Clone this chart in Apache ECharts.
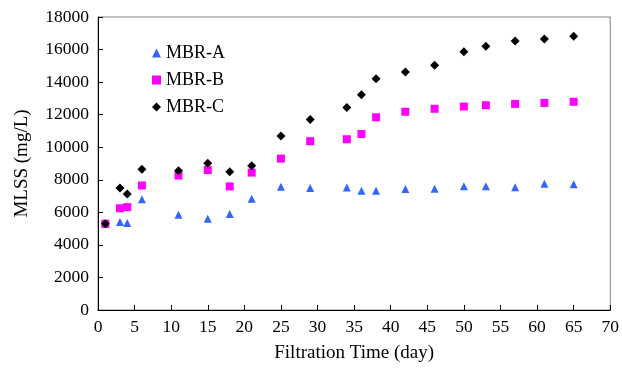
<!DOCTYPE html>
<html>
<head>
<meta charset="utf-8">
<script src="https://cdn.jsdelivr.net/npm/echarts@6/dist/echarts.min.js"></script>
<style>html,body{margin:0;padding:0;background:#fff}#c{width:622px;height:368px}</style>
</head>
<body>
<div id="c"></div>
<script>
var days = [1,3,4,6,11,15,18,21,25,29,34,36,38,42,46,50,53,57,61,65];
var mbrA = [5300,5400,5350,6800,5850,5600,5900,6830,7570,7490,7530,7330,7330,7430,7450,7610,7610,7540,7760,7720];
var mbrB = [5300,6250,6320,7650,8260,8600,7590,8440,9300,10370,10490,10810,11840,12180,12360,12500,12580,12660,12720,12790];
var mbrC = [5300,7490,7130,8640,8560,9020,8500,8860,10690,11700,12440,13230,14200,14620,15040,15870,16210,16530,16650,16810];
var seriesNames = ['MBR-A','MBR-B','MBR-C'];
var xTitle = 'Filtration Time (day)';
var yTitle = 'MLSS (mg/L)';

function pairs(v){ return days.map(function(d,i){ return [d, v[i]]; }); }
var font = '"Liberation Serif","Times New Roman",serif';
var chart = echarts.init(document.getElementById('c'), null, {renderer:'canvas'});
chart.setOption({
  animation:false,
  backgroundColor:'#fff',
  grid:{left:98, top:17, right:9, bottom:53, show:true, borderColor:'#808080', borderWidth:1},
  legend:{
    orient:'vertical', left:147, top:39, itemGap:9, itemWidth:9, itemHeight:9,
    textStyle:{fontFamily:font, fontSize:18, color:'#000'},
    data:seriesNames
  },
  xAxis:{
    type:'value', min:0, max:70, interval:5,
    name:xTitle, nameLocation:'middle', nameGap:34,
    nameTextStyle:{fontFamily:font, fontSize:19, color:'#000'},
    axisLine:{lineStyle:{color:'#000', width:1}},
    axisTick:{inside:true, length:5, lineStyle:{color:'#000'}},
    axisLabel:{fontFamily:font, fontSize:17.5, color:'#000', margin:8},
    splitLine:{show:false}
  },
  yAxis:{
    type:'value', min:0, max:18000, interval:2000,
    name:yTitle, nameLocation:'middle', nameGap:66,
    nameTextStyle:{fontFamily:font, fontSize:19, color:'#000'},
    axisLine:{show:true, lineStyle:{color:'#000', width:1}},
    axisTick:{show:true, inside:true, length:5, lineStyle:{color:'#000'}},
    axisLabel:{fontFamily:font, fontSize:17.5, color:'#000', margin:9, formatter:function(v){return String(v);}},
    splitLine:{show:false}
  },
  series:[
    {name:seriesNames[0], type:'scatter', symbol:'triangle', symbolSize:8, itemStyle:{color:'#3366FF', opacity:1}, data:pairs(mbrA)},
    {name:seriesNames[1], type:'scatter', symbol:'rect', symbolSize:8, itemStyle:{color:'#FF00FF', opacity:1}, data:pairs(mbrB)},
    {name:seriesNames[2], type:'scatter', symbol:'diamond', symbolSize:9, itemStyle:{color:'#000', opacity:1}, data:pairs(mbrC)}
  ]
});
</script>
</body>
</html>
